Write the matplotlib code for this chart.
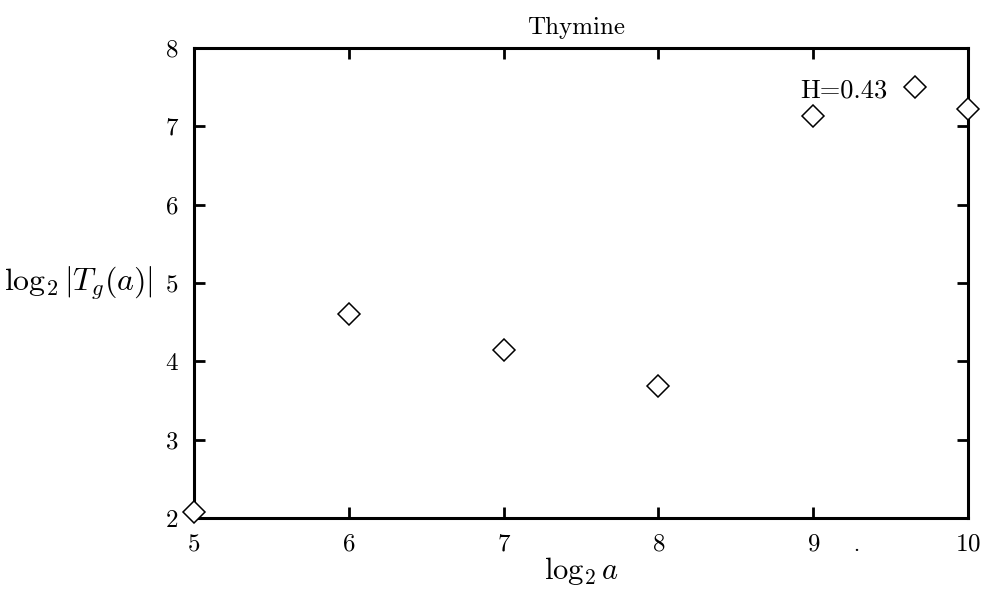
import matplotlib.pyplot as plt

# Data
log2_a = [5.0, 6.0, 7.0, 8.0, 9.0, 9.66, 10.0]
log2_T = [2.08, 4.6, 4.14, 3.69, 7.13, 7.5, 7.22]
x_ticks = [5, 6, 7, 8, 9, 10]
y_ticks = [2, 3, 4, 5, 6, 7, 8]

plt.rcParams['font.family'] = ['cmr10', 'DejaVu Serif']
plt.rcParams['mathtext.fontset'] = 'cm'
plt.rcParams['axes.formatter.use_mathtext'] = True

fig = plt.figure(figsize=(9.95, 5.9), dpi=100)
ax = fig.add_axes([0.195, 0.122, 0.778, 0.797])

ax.plot(log2_a, log2_T, linestyle='none', marker='D', markersize=11,
        markerfacecolor='white', markeredgecolor='black', markeredgewidth=1.1,
        clip_on=False, zorder=3)

ax.set_xlim(5, 10)
ax.set_ylim(2, 8)
ax.set_xticks(x_ticks)
ax.set_yticks(y_ticks)
ax.tick_params(direction='in', length=8, width=2, labelsize=18,
               top=True, right=True, pad=11)
for s in ax.spines.values():
    s.set_linewidth(2.2)

ax.set_title('Thymine', fontsize=18, pad=10, x=0.494)
ax.set_xlabel(r'$\log_2 a$', fontsize=22, labelpad=0)
ax.set_ylabel(r'$\log_2|T_g(a)|$', fontsize=23, rotation=0, labelpad=62, va='center')

ax.text(9.2, 7.45, 'H=0.43', fontsize=19, ha='center', va='center')
ax.text(0.855, -0.07, '·', transform=ax.transAxes, fontsize=14, ha='center', va='center')

plt.savefig('out.png', dpi=100)
